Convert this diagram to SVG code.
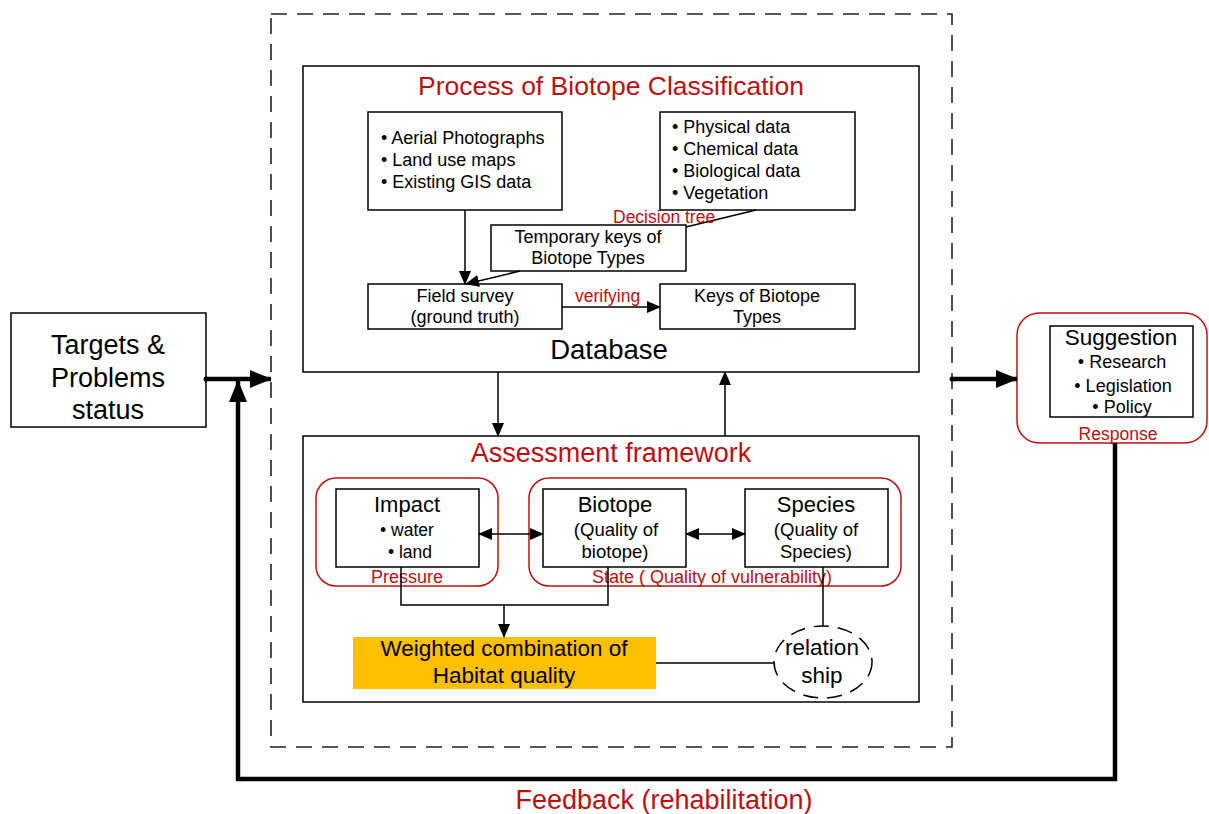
<svg xmlns="http://www.w3.org/2000/svg" width="1209" height="814" viewBox="0 0 1209 814">
  <style>
    text { font-family: "Liberation Sans", Arial, sans-serif; fill: #000; }
    .red { fill: #BC1010; }
    .box { fill: #fff; stroke: #000; stroke-width: 1.5; }
    .grp { fill: none; stroke: #BC1010; stroke-width: 1.5; }
    .ln { fill: none; stroke: #000; stroke-width: 1.5; }
    .thick { fill: none; stroke: #000; stroke-width: 4.5; }
    .mid { text-anchor: middle; }
  </style>
  <defs>
    <marker id="arr" markerUnits="userSpaceOnUse" markerWidth="14" markerHeight="12" refX="13" refY="6" orient="auto-start-reverse">
      <path d="M0,0 L14,6 L0,12 z" fill="#000"/>
    </marker>
    <marker id="arrBig" markerUnits="userSpaceOnUse" markerWidth="22" markerHeight="18" refX="21" refY="9" orient="auto">
      <path d="M0,0 L22,9 L0,18 z" fill="#000"/>
    </marker>
  </defs>

  <rect width="1209" height="814" fill="#fff"/>

  <!-- outer dashed frame -->
  <rect id="frame" x="271" y="14" width="681" height="733" fill="none" stroke="#222" stroke-width="1.6" stroke-dasharray="16 10"/>

  <!-- process panel -->
  <g id="process">
    <rect class="box" x="303" y="66" width="616" height="306"/>
    <text class="red mid" x="611" y="95" font-size="26.5">Process of Biotope Classification</text>
    <text class="mid" x="609" y="359" font-size="27.5">Database</text>
  </g>

  <g id="sources">
    <rect class="box" x="368" y="112" width="194" height="98"/>
    <text x="381" y="144" font-size="18">• Aerial Photographs</text>
    <text x="381" y="166" font-size="18">• Land use maps</text>
    <text x="381" y="188" font-size="18">• Existing GIS data</text>
  </g>

  <g id="data">
    <rect class="box" x="660" y="112" width="195" height="98"/>
    <text x="672" y="133" font-size="18">• Physical data</text>
    <text x="672" y="155" font-size="18">• Chemical data</text>
    <text x="672" y="177" font-size="18">• Biological data</text>
    <text x="672" y="199" font-size="18">• Vegetation</text>
  </g>

  <g id="temporary">
    <rect class="box" x="491" y="225" width="195" height="46"/>
    <text class="mid" x="588" y="243" font-size="18">Temporary keys of</text>
    <text class="mid" x="588" y="264" font-size="18">Biotope Types</text>
  </g>

  <g id="field">
    <rect class="box" x="368" y="284" width="194" height="45"/>
    <text class="mid" x="465" y="302" font-size="18">Field survey</text>
    <text class="mid" x="465" y="323" font-size="18">(ground truth)</text>
  </g>

  <g id="keys">
    <rect class="box" x="660" y="284" width="195" height="45"/>
    <text class="mid" x="757" y="302" font-size="18">Keys of Biotope</text>
    <text class="mid" x="757" y="323" font-size="18">Types</text>
  </g>

  <!-- assessment panel -->
  <g id="assessment">
    <rect class="box" x="303" y="436" width="616" height="266"/>
    <text class="red mid" x="611" y="462" font-size="27">Assessment framework</text>
  </g>

  <g id="pressure">
    <rect class="grp" x="316" y="478" width="182" height="108" rx="20"/>
    <text class="red mid" x="407" y="583" font-size="18">Pressure</text>
  </g>

  <g id="state">
    <rect class="grp" x="529" y="478" width="372" height="108" rx="20"/>
    <text class="red" x="592" y="583" font-size="18">State ( Quality of vulnerability)</text>
  </g>

  <g id="impact">
    <rect class="box" x="336" y="489" width="143" height="78"/>
    <text class="mid" x="407" y="512" font-size="22">Impact</text>
    <text class="mid" x="407" y="536" font-size="17.5">• water</text>
    <text class="mid" x="410" y="558" font-size="17.5">• land</text>
  </g>

  <g id="biotope">
    <rect class="box" x="543" y="489" width="143" height="78"/>
    <text class="mid" x="615" y="512" font-size="22">Biotope</text>
    <text class="mid" x="616" y="536" font-size="18.5">(Quality of</text>
    <text class="mid" x="615" y="558" font-size="18.5">biotope)</text>
  </g>

  <g id="species">
    <rect class="box" x="745" y="489" width="143" height="78"/>
    <text class="mid" x="816" y="512" font-size="22">Species</text>
    <text class="mid" x="816" y="536" font-size="18.5">(Quality of</text>
    <text class="mid" x="816" y="558" font-size="18.5">Species)</text>
  </g>

  <g id="habitat">
    <rect x="353" y="637" width="303" height="52" fill="#FFC000"/>
    <text class="mid" x="504" y="656" font-size="22.5">Weighted combination of</text>
    <text class="mid" x="504" y="683" font-size="22.5">Habitat quality</text>
  </g>

  <g id="relationship">
    <ellipse cx="823" cy="662" rx="49" ry="36" fill="#fff" stroke="#000" stroke-width="1.5" stroke-dasharray="15 9"/>
    <text class="mid" x="822" y="655" font-size="22.5">relation</text>
    <text class="mid" x="822" y="683" font-size="22.5">ship</text>
  </g>

  <!-- left input -->
  <g id="targets">
    <rect class="box" x="11" y="313" width="195" height="114"/>
    <text class="mid" x="108" y="354" font-size="27">Targets &amp;</text>
    <text class="mid" x="108" y="387" font-size="27">Problems</text>
    <text class="mid" x="108" y="419" font-size="27">status</text>
  </g>

  <!-- right output -->
  <g id="response">
    <rect class="grp" x="1017" y="313" width="190" height="130" rx="22"/>
    <rect class="box" x="1050" y="326" width="143" height="91"/>
    <text class="mid" x="1121" y="345" font-size="22.5">Suggestion</text>
    <text class="mid" x="1122" y="368" font-size="18">• Research</text>
    <text class="mid" x="1123" y="392" font-size="18">• Legislation</text>
    <text class="mid" x="1122" y="413" font-size="18">• Policy</text>
    <text class="red mid" x="1118" y="440" font-size="17.5">Response</text>
  </g>

  <text class="red mid" x="664" y="809" font-size="27">Feedback (rehabilitation)</text>

  <g id="connectors">
    <!-- inside the classification panel -->
    <line class="ln" x1="465" y1="210" x2="465" y2="284" marker-end="url(#arr)"/>
    <line class="ln" x1="520" y1="271" x2="466" y2="284" marker-end="url(#arr)"/>
    <line class="ln" x1="756" y1="210" x2="686" y2="227"/>
    <line class="ln" x1="562" y1="307" x2="660" y2="307" marker-end="url(#arr)"/>
    <text class="red" x="575" y="302" font-size="17.5">verifying</text>
    <text class="red" x="613" y="223" font-size="17.5">Decision tree</text>

    <!-- between the panels -->
    <line class="ln" x1="498" y1="372" x2="498" y2="436" marker-end="url(#arr)"/>
    <line class="ln" x1="725" y1="436" x2="725" y2="372" marker-end="url(#arr)"/>

    <!-- inside the assessment panel -->
    <line class="ln" x1="479" y1="534" x2="543" y2="534" marker-start="url(#arr)" marker-end="url(#arr)"/>
    <line class="ln" x1="686" y1="534" x2="745" y2="534" marker-start="url(#arr)" marker-end="url(#arr)"/>
    <polyline class="ln" points="401,567 401,605 608,605 608,567"/>
    <line class="ln" x1="504" y1="605" x2="504" y2="637" marker-end="url(#arr)"/>
    <line class="ln" x1="823" y1="567" x2="823" y2="626"/>
    <line class="ln" x1="656" y1="663" x2="774" y2="663"/>

    <!-- input, output and feedback loop -->
    <circle cx="206" cy="379" r="2.5" fill="#000"/>
    <line class="thick" x1="206" y1="379" x2="271" y2="379" marker-end="url(#arrBig)"/>
    <circle cx="952" cy="379" r="2.5" fill="#000"/>
    <line class="thick" x1="952" y1="379" x2="1017" y2="379" marker-end="url(#arrBig)"/>
    <polyline class="thick" points="1115,443 1115,779 238,779 238,381" marker-end="url(#arrBig)"/>
  </g>
</svg>
